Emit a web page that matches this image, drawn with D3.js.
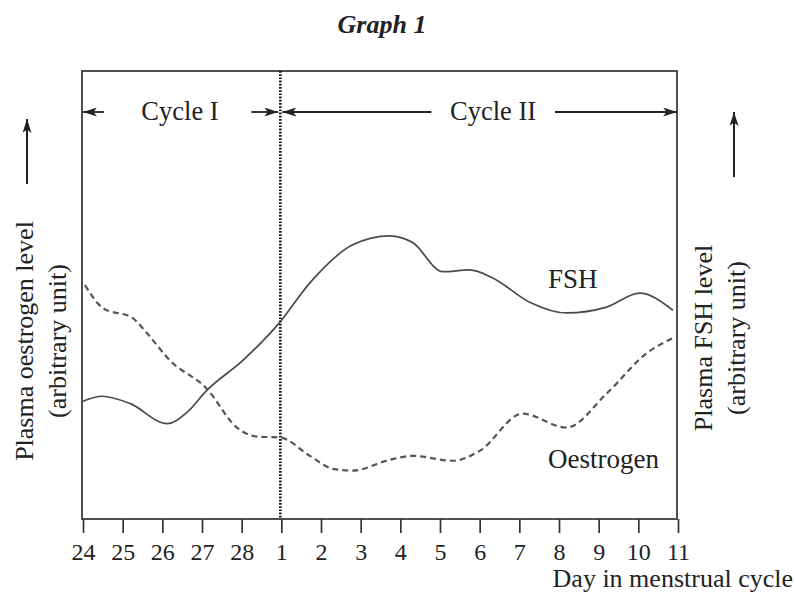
<!DOCTYPE html>
<html>
<head>
<meta charset="utf-8">
<script src="https://cdn.jsdelivr.net/npm/d3@7/dist/d3.min.js"></script>
<style>
  body { margin: 0; background: #fff; }
  svg text { font-family: "Liberation Serif", "Times New Roman", serif; fill: #222; }
</style>
</head>
<body>
<div id="chart"></div>
<script>
// day labels along the x axis (index 0..15)
var dayLabels = ["24", "25", "26", "27", "28", "1", "2", "3", "4", "5", "6", "7", "8", "9", "10", "11"];

// [day index, level in arbitrary units 0-100]
var fshData = [
    [0.0, 26.3], [0.48, 27.4], [1.18, 25.8], [2.12, 21.3], [2.62, 23.8],
    [3.12, 28.7], [4.03, 35.4], [4.96, 43.9], [5.72, 52.7], [6.8, 61.2],
    [7.73, 63.2], [8.31, 61.7], [9.07, 55.2], [9.75, 55.6], [10.33, 53.8],
    [11.26, 48.4], [12.19, 46.0], [13.2, 47.3], [14.03, 50.4], [14.87, 46.6]
];

var oestrogenData = [
    [0.05, 52.2], [0.5, 47.1], [1.26, 44.8], [1.61, 41.5], [2.19, 35.4],
    [3.12, 29.1], [3.88, 20.4], [4.38, 18.4], [4.96, 18.2], [5.72, 14.1],
    [6.3, 11.2], [6.8, 10.8], [7.73, 13.2], [8.31, 14.1], [9.32, 13.0],
    [10.0, 15.2], [11.08, 23.5], [12.19, 20.4], [13.2, 28.0], [14.21, 37.0],
    [14.92, 40.6]
];

var cycleStart = 5; // day 1 of cycle II

var width = 795, height = 594;
var box = {left: 82, right: 677, top: 71, bottom: 519};

var svg = d3.select("#chart").append("svg")
    .attr("width", width)
    .attr("height", height);

var x = d3.scaleLinear().domain([0, 15]).range([box.left + 1, box.right + 1]);
var y = d3.scaleLinear().domain([0, 100]).range([box.bottom, box.top]);

var ink = "#222";

// arrowhead
svg.append("defs").append("marker")
    .attr("id", "head")
    .attr("viewBox", "0 0 14 9")
    .attr("refX", 14)
    .attr("refY", 4.5)
    .attr("markerWidth", 14)
    .attr("markerHeight", 9)
    .attr("markerUnits", "userSpaceOnUse")
    .attr("orient", "auto")
    .append("path")
    .attr("d", "M0,0 L14,4.5 L0,9 L3.5,4.5 Z")
    .attr("fill", ink);

// title
svg.append("text")
    .attr("x", 382)
    .attr("y", 33)
    .attr("text-anchor", "middle")
    .style("font-size", "26px")
    .style("font-weight", "bold")
    .style("font-style", "italic")
    .text("Graph 1");

// frame
svg.append("rect")
    .attr("x", box.left)
    .attr("y", box.top)
    .attr("width", box.right - box.left)
    .attr("height", box.bottom - box.top)
    .attr("fill", "none")
    .attr("stroke", "#333")
    .attr("stroke-width", 1.7);

// x axis
var xAxis = d3.axisBottom(x)
    .tickValues(d3.range(dayLabels.length))
    .tickFormat(function(d){ return dayLabels[d]; })
    .tickSize(14)
    .tickSizeOuter(0)
    .tickPadding(10);

var gx = svg.append("g")
    .attr("transform", "translate(0," + box.bottom + ")")
    .call(xAxis);
gx.select(".domain").remove();
gx.selectAll(".tick line").attr("stroke", "#333").attr("stroke-width", 1.7);
gx.selectAll(".tick text")
    .style("font-size", "24px")
    .style("font-family", "Liberation Serif")
    .attr("fill", "#222");

svg.append("text")
    .attr("x", 793)
    .attr("y", 587)
    .attr("text-anchor", "end")
    .style("font-size", "26px")
    .text("Day in menstrual cycle");

// dotted line at start of cycle II
svg.append("line")
    .attr("x1", x(cycleStart) - 1).attr("x2", x(cycleStart) - 1)
    .attr("y1", box.top).attr("y2", box.bottom)
    .attr("stroke", "#111")
    .attr("stroke-width", 2.6)
    .attr("stroke-dasharray", "1.7,1.5");

// cycle arrows
var arrowY = 112;
var arrows = [
    [x(0) + 21, x(0)],
    [x(cycleStart) - 30, x(cycleStart) - 3],
    [x(cycleStart) + 150, x(cycleStart) + 1],
    [555, box.right]
];
svg.selectAll(".cyc-arrow")
    .data(arrows)
    .enter().append("line")
    .attr("class", "cyc-arrow")
    .attr("x1", function(d){ return d[0]; })
    .attr("x2", function(d){ return d[1]; })
    .attr("y1", arrowY).attr("y2", arrowY)
    .attr("stroke", ink)
    .attr("stroke-width", 1.8)
    .attr("marker-end", "url(#head)");

svg.append("text")
    .attr("x", 180).attr("y", 120)
    .attr("text-anchor", "middle")
    .style("font-size", "26.5px")
    .text("Cycle I");
svg.append("text")
    .attr("x", 493).attr("y", 120)
    .attr("text-anchor", "middle")
    .style("font-size", "26.5px")
    .text("Cycle II");

// y labels
function yLabel(cx, cy, lines, arrowX, arrowTop, arrowBottom) {
    lines.forEach(function(t, i){
        svg.append("text")
            .attr("transform", "translate(" + (cx + i * 33) + "," + cy + ") rotate(-90)")
            .attr("text-anchor", "middle")
            .style("font-size", "26px")
            .text(t);
    });
    svg.append("line")
        .attr("x1", arrowX).attr("x2", arrowX)
        .attr("y1", arrowBottom).attr("y2", arrowTop)
        .attr("stroke", ink)
        .attr("stroke-width", 2)
        .attr("marker-end", "url(#head)");
}
yLabel(33, 341, ["Plasma oestrogen level", "(arbitrary unit)"], 27, 119, 184);
yLabel(712, 338, ["Plasma FSH level", "(arbitrary unit)"], 734, 112, 177);

// curves
var line = d3.line()
    .x(function(d){ return x(d[0]); })
    .y(function(d){ return y(d[1]); })
    .curve(d3.curveMonotoneX);

svg.append("path")
    .datum(fshData)
    .attr("d", line)
    .attr("fill", "none")
    .attr("stroke", "#4a4a4a")
    .attr("stroke-width", 1.7);

svg.append("path")
    .datum(oestrogenData)
    .attr("d", line)
    .attr("fill", "none")
    .attr("stroke", "#555")
    .attr("stroke-width", 2.2)
    .attr("stroke-dasharray", "6,4");

svg.append("text")
    .attr("x", 548).attr("y", 288)
    .style("font-size", "27px")
    .text("FSH");
svg.append("text")
    .attr("x", 548).attr("y", 468)
    .style("font-size", "27px")
    .text("Oestrogen");
</script>
</body>
</html>
